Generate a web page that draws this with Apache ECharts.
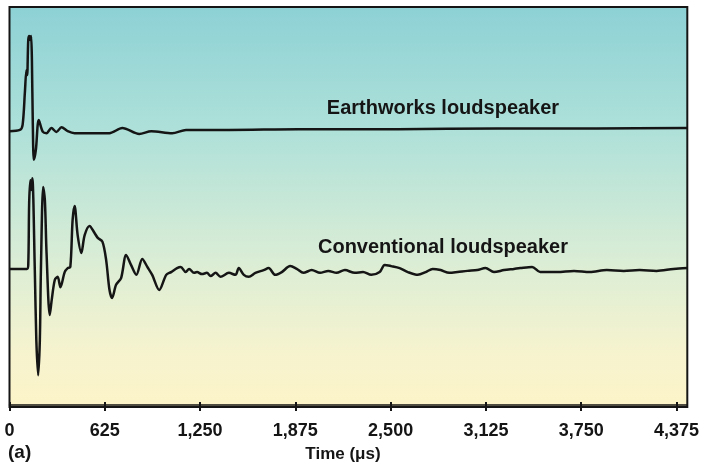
<!DOCTYPE html>
<html>
<head>
<meta charset="utf-8">
<script src="https://cdn.jsdelivr.net/npm/echarts@6/dist/echarts.min.js"></script>
<style>
html,body{margin:0;padding:0;background:#fff;}
#chart{width:702px;height:465px;}
</style>
</head>
<body>
<div id="chart"></div>
<script>
// Time axis (microseconds) tick values and labels
const tickValues = [0, 625, 1250, 1875, 2500, 3125, 3750, 4375];
const tickLabels = ['0', '625', '1,250', '1,875', '2,500', '3,125', '3,750', '4,375'];

// Earthworks loudspeaker impulse response (time in µs, plotted amplitude in arbitrary units)
const earthTime = [0, 68, 86, 101, 111, 116, 123, 130, 137, 142, 147, 153, 160, 173, 192, 219, 243, 275, 308, 341, 382, 427, 656, 740, 851, 930, 1067, 1158, 1439, 1895, 2548, 3200, 3853, 4446];
const earthValue = [68.8, 69.1, 70.4, 78.6, 84.2, 82.9, 91.7, 92.7, 91.7, 92.7, 86.7, 70.4, 61.6, 64.1, 71.6, 68.6, 68.3, 69.6, 68.6, 69.8, 68.8, 68.3, 68.3, 69.6, 68.1, 68.8, 68.3, 69.1, 69.1, 69.3, 69.3, 69.5, 69.5, 69.6];

// Conventional loudspeaker impulse response
const convTime = [0, 114, 123, 129, 137, 144, 150, 166, 176, 188, 199, 206, 221, 232, 243, 264, 277, 297, 316, 334, 362, 382, 399, 414, 427, 447, 471, 493, 525, 558, 579, 610, 634, 656, 673, 699, 732, 765, 797, 832, 871, 904, 936, 982, 1028, 1060, 1099, 1123, 1156, 1178, 1210, 1230, 1262, 1295, 1319, 1352, 1384, 1439, 1482, 1504, 1537, 1569, 1613, 1667, 1700, 1743, 1786, 1841, 1884, 1928, 1982, 2037, 2091, 2145, 2200, 2265, 2319, 2373, 2428, 2461, 2504, 2559, 2613, 2678, 2730, 2776, 2828, 2885, 2939, 3004, 3069, 3122, 3178, 3244, 3309, 3350, 3428, 3481, 3592, 3703, 3807, 3918, 4029, 4133, 4244, 4355, 4446];
const convValue = [34.2, 34.2, 35.2, 50.8, 56.5, 54.0, 57.0, 33.9, 16.3, 7.5, 16.3, 33.9, 54.8, 51.5, 38.2, 22.6, 26.4, 31.4, 32.2, 29.6, 33.4, 34.4, 34.7, 46.5, 50.0, 42.7, 38.2, 42.7, 45.0, 43.2, 42.0, 41.0, 36.4, 28.9, 26.9, 30.2, 31.9, 37.7, 35.2, 32.7, 36.7, 34.7, 32.7, 28.9, 32.7, 33.4, 34.4, 34.7, 33.4, 34.2, 33.2, 33.4, 32.9, 33.2, 32.4, 33.2, 32.2, 33.2, 32.7, 34.4, 32.7, 32.2, 33.2, 33.9, 34.4, 32.7, 33.4, 34.9, 34.2, 33.2, 33.9, 33.2, 33.7, 33.2, 33.9, 33.2, 33.4, 32.7, 33.4, 35.2, 34.9, 34.4, 33.4, 32.7, 33.4, 34.2, 33.9, 33.2, 33.4, 33.7, 33.9, 34.4, 33.4, 33.9, 34.2, 34.4, 34.7, 33.4, 33.4, 33.7, 33.4, 33.9, 33.7, 33.9, 33.7, 34.2, 34.4];

const seriesNames = ['Earthworks loudspeaker', 'Conventional loudspeaker'];
const axisTitle = 'Time (\u03bcs)';
const panelLabel = '(a)';

const zip = (a, b) => a.map((t, i) => [t, b[i]]);
const labelMap = {};
tickValues.forEach((v, i) => { labelMap[v] = tickLabels[i]; });

const chart = echarts.init(document.getElementById('chart'), null, {renderer: 'canvas'});
const FONT = '"Liberation Sans", Arial, Helvetica, sans-serif';
const INK = '#151515';

const xCommon = {
  type: 'value', min: 0, max: 4446, splitLine: {show: false}
};

chart.setOption({
  animation: false,
  backgroundColor: '#ffffff',
  grid: {
    left: 9.5, top: 7, width: 681.5, height: 400,
    show: true,
    borderColor: INK, borderWidth: 2,
    backgroundColor: new echarts.graphic.LinearGradient(0, 0, 0, 1, [
      {offset: 0, color: '#8dd1d5'},
      {offset: 0.3, color: '#ade0d9'},
      {offset: 0.6, color: '#d6ecd6'},
      {offset: 0.85, color: '#f5f3cf'},
      {offset: 1, color: '#fdf4c8'}
    ])
  },
  xAxis: [
    Object.assign({}, xCommon, {
      position: 'bottom',
      axisLine: {show: true, lineStyle: {color: INK, width: 1.5}},
      axisTick: {show: true, inside: false, length: 6, customValues: tickValues, lineStyle: {color: INK, width: 2}},
      axisLabel: {
        show: true, customValues: tickValues, margin: 15,
        color: INK, fontFamily: FONT, fontWeight: 'bold', fontSize: 18,
        formatter: v => labelMap[v] !== undefined ? labelMap[v] : ''
      }
    }),
    Object.assign({}, xCommon, {
      position: 'bottom',
      axisLine: {show: false},
      axisTick: {show: true, inside: true, length: 5, customValues: tickValues, lineStyle: {color: INK, width: 2}},
      axisLabel: {show: false}
    })
  ],
  yAxis: {
    type: 'value', min: -0.5, max: 100,
    axisLine: {show: false},
    axisTick: {show: false}, axisLabel: {show: false}, splitLine: {show: false}
  },
  series: [
    {
      name: seriesNames[0], type: 'line', xAxisIndex: 0,
      data: zip(earthTime, earthValue),
      showSymbol: false, smooth: 0.3,
      lineStyle: {color: INK, width: 2.5}
    },
    {
      name: seriesNames[1], type: 'line', xAxisIndex: 0,
      data: zip(convTime, convValue),
      showSymbol: false, smooth: 0.3,
      lineStyle: {color: INK, width: 2.5}
    }
  ],
  graphic: [
    {type: 'text', x: 443, y: 108, style: {text: seriesNames[0], fill: INK, font: 'bold 20px ' + FONT, textAlign: 'center', textVerticalAlign: 'middle'}},
    {type: 'text', x: 443, y: 247, style: {text: seriesNames[1], fill: INK, font: 'bold 20px ' + FONT, textAlign: 'center', textVerticalAlign: 'middle'}},
    {type: 'text', x: 8, y: 453, style: {text: panelLabel, fill: INK, font: 'bold 19px ' + FONT, textAlign: 'left', textVerticalAlign: 'middle'}},
    {type: 'text', x: 343, y: 454, style: {text: axisTitle, fill: INK, font: 'bold 17px ' + FONT, textAlign: 'center', textVerticalAlign: 'middle'}}
  ]
});
</script>
</body>
</html>
